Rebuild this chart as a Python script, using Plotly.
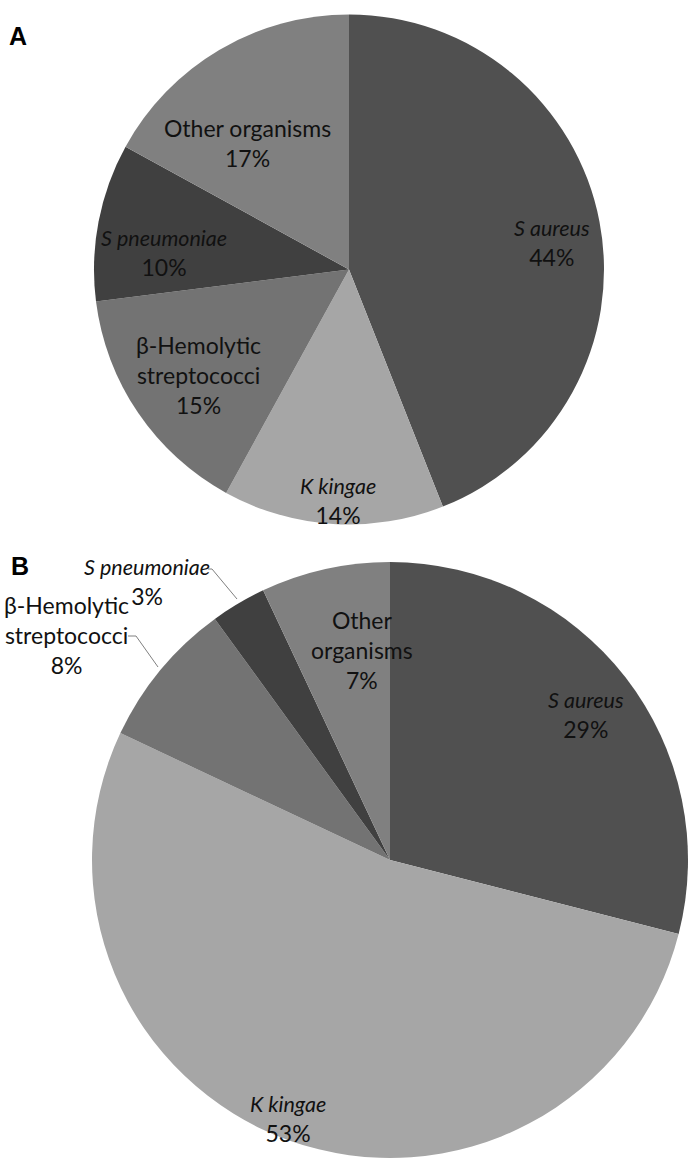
import plotly.graph_objects as go

W, H = 688, 1162

# ---- data ----
categories = ["S aureus", "K kingae", "β-Hemolytic streptococci", "S pneumoniae", "Other organisms"]
values_A = [44, 14, 15, 10, 17]
values_B = [29, 53, 8, 3, 7]
italic = [True, True, False, True, False]
label_lines_A = [["S aureus"], ["K kingae"], ["β-Hemolytic", "streptococci"], ["S pneumoniae"], ["Other organisms"]]
label_lines_B = [["S aureus"], ["K kingae"], ["β-Hemolytic", "streptococci"], ["S pneumoniae"], ["Other", "organisms"]]
colors = ["#505050", "#a6a6a6", "#737373", "#404040", "#808080"]

# ---- layout helpers (pixel positions) ----
def px(x):
    return x / W

def py(y):
    return 1 - y / H

A_center, A_r = (349, 269.5), 255
B_center, B_r = (390, 860), 298

def domain(center, r):
    cx, cy = center
    return dict(x=[max(0, px(cx - r)), min(1, px(cx + r))],
                y=[max(0, py(cy + r)), min(1, py(cy - r))])

fig = go.Figure()
for vals, center, r in [(values_A, A_center, A_r), (values_B, B_center, B_r)]:
    fig.add_trace(go.Pie(
        labels=categories, values=vals, sort=False, direction="clockwise", rotation=0,
        marker=dict(colors=colors, line=dict(width=0)),
        textinfo="none", hoverinfo="label+percent", showlegend=False,
        domain=domain(center, r),
    ))

def label_text(lines, is_it, v):
    body = "<br>".join(f"<i><span style='font-size:21.5px'>{l}</span></i>" if is_it else l for l in lines)
    return f"{body}<br>{v}%"

# label centres in pixels
pos_A = [(552, 243), (338, 501), (198, 375), (164, 253), (248, 143)]
pos_B = [(586, 715), (288, 1119), (66, 635), (147, 582), (362, 650)]

font = dict(family="Lato, Carlito, sans-serif", size=23, color="#111111")
annotations = []
for lines_set, vals, pos in [(label_lines_A, values_A, pos_A), (label_lines_B, values_B, pos_B)]:
    for lines, it, v, (x, y) in zip(lines_set, italic, vals, pos):
        annotations.append(dict(text=label_text(lines, it, v), x=px(x), y=py(y),
                                xref="paper", yref="paper", xanchor="center", yanchor="middle",
                                showarrow=False, font=font, align="center"))

for letter, (x, y) in [("A", (18, 36)), ("B", (20, 566))]:
    annotations.append(dict(text=f"<b>{letter}</b>", x=px(x), y=py(y), xref="paper", yref="paper",
                            xanchor="center", yanchor="middle", showarrow=False,
                            font=dict(family="Liberation Sans, Arial, sans-serif", size=25, color="black")))

# leader lines for the small slices in B
shapes = [
    dict(type="path", path=f"M {px(208)} {py(569)} L {px(212)} {py(569)} L {px(237)} {py(599)}",
         xref="paper", yref="paper", line=dict(color="#808080", width=1)),
    dict(type="path", path=f"M {px(128)} {py(636)} L {px(136)} {py(636)} L {px(158)} {py(667)}",
         xref="paper", yref="paper", line=dict(color="#808080", width=1)),
]

fig.update_layout(width=W, height=H, margin=dict(l=0, r=0, t=0, b=0),
                  paper_bgcolor="white", plot_bgcolor="white",
                  annotations=annotations, shapes=shapes)

fig.write_html("out.html")
